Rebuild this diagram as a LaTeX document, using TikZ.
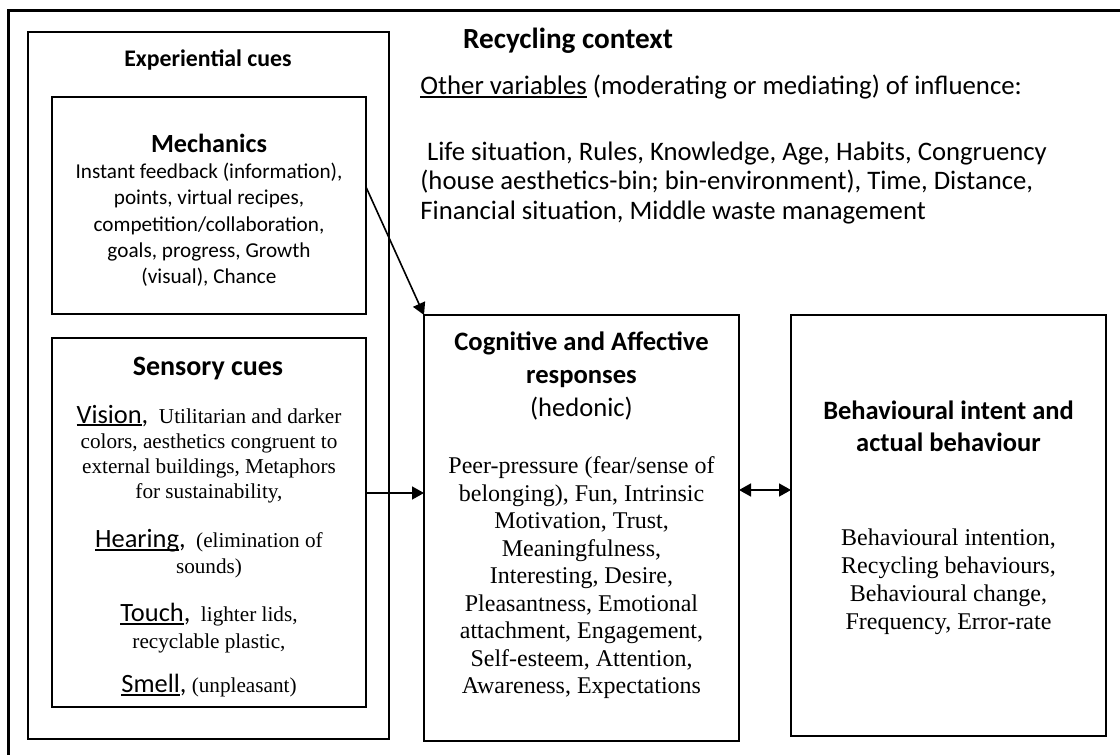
\documentclass[tikz,border=0pt]{standalone}
\usepackage{fontspec}
\setmainfont{Carlito}
\newfontfamily\tnr{Liberation Serif}
\usetikzlibrary{arrows.meta}

\newcommand{\undl}[1]{\setbox0\hbox{#1}\rlap{\rule[-0.12em]{\wd0}{0.075em}}\box0\relax}
\newcommand{\sense}[1]{{\normalfont\fontsize{13.2}{13.5}\selectfont\undl{#1},}}

\begin{document}
\begin{tikzpicture}[x=0.5pt,y=-0.5pt,>={Triangle[length=6pt,width=6.5pt]},
    box/.style={draw,line width=1.4pt,inner sep=0pt,outer sep=0pt,anchor=north west},
    plain/.style={inner sep=0pt,align=center},
    times/.style={font=\tnr\fontsize{12}{13.75}\selectfont},
    link/.style={line width=0.8pt}]

\useasboundingbox (0,0) rectangle (1120,755);
\begin{scope}
    \clip (0,0) rectangle (1120,755);
    \draw[line width=1.5pt] (8,10) rectangle (1140,775);
\end{scope}

% boxes
\node[box,minimum width=180.5pt,minimum height=353.5pt] (exp) at (28,32) {};
\node[box,minimum width=157pt,minimum height=108.5pt] (mech) at (52,97) {};
\node[box,minimum width=157pt,minimum height=184.5pt] (sens) at (52,338) {};
\node[box,minimum width=157.5pt,minimum height=213pt] (cog) at (424,315) {};
\node[box,minimum width=157.5pt,minimum height=210.5pt] (beh) at (791,315) {};

% experiential cues
\node[plain,font=\bfseries\fontsize{11.9}{14}\selectfont] (expT) at (208,60) {Experiential cues};
\node[plain,font=\bfseries\fontsize{13.1}{16}\selectfont] (mechT) at (209,143) {Mechanics};
\node[plain,font=\fontsize{10.6}{13.15}\selectfont] (mechB) at (209,225) {Instant feedback (information),\\ points, virtual recipes,\\ competition/collaboration,\\ goals, progress, Growth\\ (visual), Chance};

\node[plain,font=\bfseries\fontsize{14}{17}\selectfont] (sensT) at (208,369) {Sensory cues};
\node[plain,font=\tnr\fontsize{10.6}{12.5}\selectfont] (vision) at (209,454) {\sense{Vision}\ \ Utilitarian and darker\\ colors, aesthetics congruent to\\ external buildings, Metaphors\\ for sustainability,};
\node[plain,font=\tnr\fontsize{10.6}{13}\selectfont] (hearing) at (209,554) {\sense{Hearing}\ \ (elimination of\\ sounds)};
\node[plain,font=\tnr\fontsize{10.6}{13.5}\selectfont] (touch) at (209,628) {\sense{Touch}\ \ lighter lids,\\ recyclable plastic,};
\node[plain,font=\tnr\fontsize{10.6}{13}\selectfont] (smell) at (209,686) {\sense{Smell}\ (unpleasant)};

% recycling context
\node[plain,font=\bfseries\fontsize{14.6}{17}\selectfont] (ctxT) at (568,41) {Recycling context};
\node[inner sep=0pt,anchor=west,font=\fontsize{13.4}{14.75}\selectfont] (other) at (420,87) {\undl{Other variables} (moderating or mediating) of influence:};
\node[inner sep=0pt,anchor=west,align=left,font=\fontsize{13.35}{14.75}\selectfont] (vars) at (420,183) {\hspace*{0.25em}Life situation, Rules, Knowledge, Age, Habits, Congruency\\(house aesthetics-bin; bin-environment), Time, Distance,\\Financial situation, Middle waste management};

% responses
\node[plain,font=\fontsize{13.3}{16.5}\selectfont] (cogT) at (581.5,376) {\textbf{Cognitive and Affective}\\\textbf{responses}\\(hedonic)};
\node[plain,times] (cogB) at (581.5,578) {Peer-pressure (fear/sense of\\ belonging), Fun, Intrinsic\\ Motivation, Trust,\\ Meaningfulness,\\ Interesting, Desire,\\ Pleasantness, Emotional\\ attachment, Engagement,\\ Self-esteem, Attention,\\ Awareness, Expectations};

% behaviour
\node[plain,font=\bfseries\fontsize{13.25}{16}\selectfont] (behT) at (948.5,426) {Behavioural intent and\\ actual behaviour};
\node[plain,font=\tnr\fontsize{12}{14}\selectfont] (behB) at (948.5,582) {Behavioural intention,\\ Recycling behaviours,\\ Behavioural change,\\ Frequency, Error-rate};

% links
\draw[->,link] (mech.east |- 0,187) -- (cog.north west);
\draw[->,link] (sens.east |- 0,493) -- (cog.west |- 0,493);
\draw[<->,link] (cog.east |- 0,490) -- (beh.west |- 0,490);

\end{tikzpicture}
\end{document}
